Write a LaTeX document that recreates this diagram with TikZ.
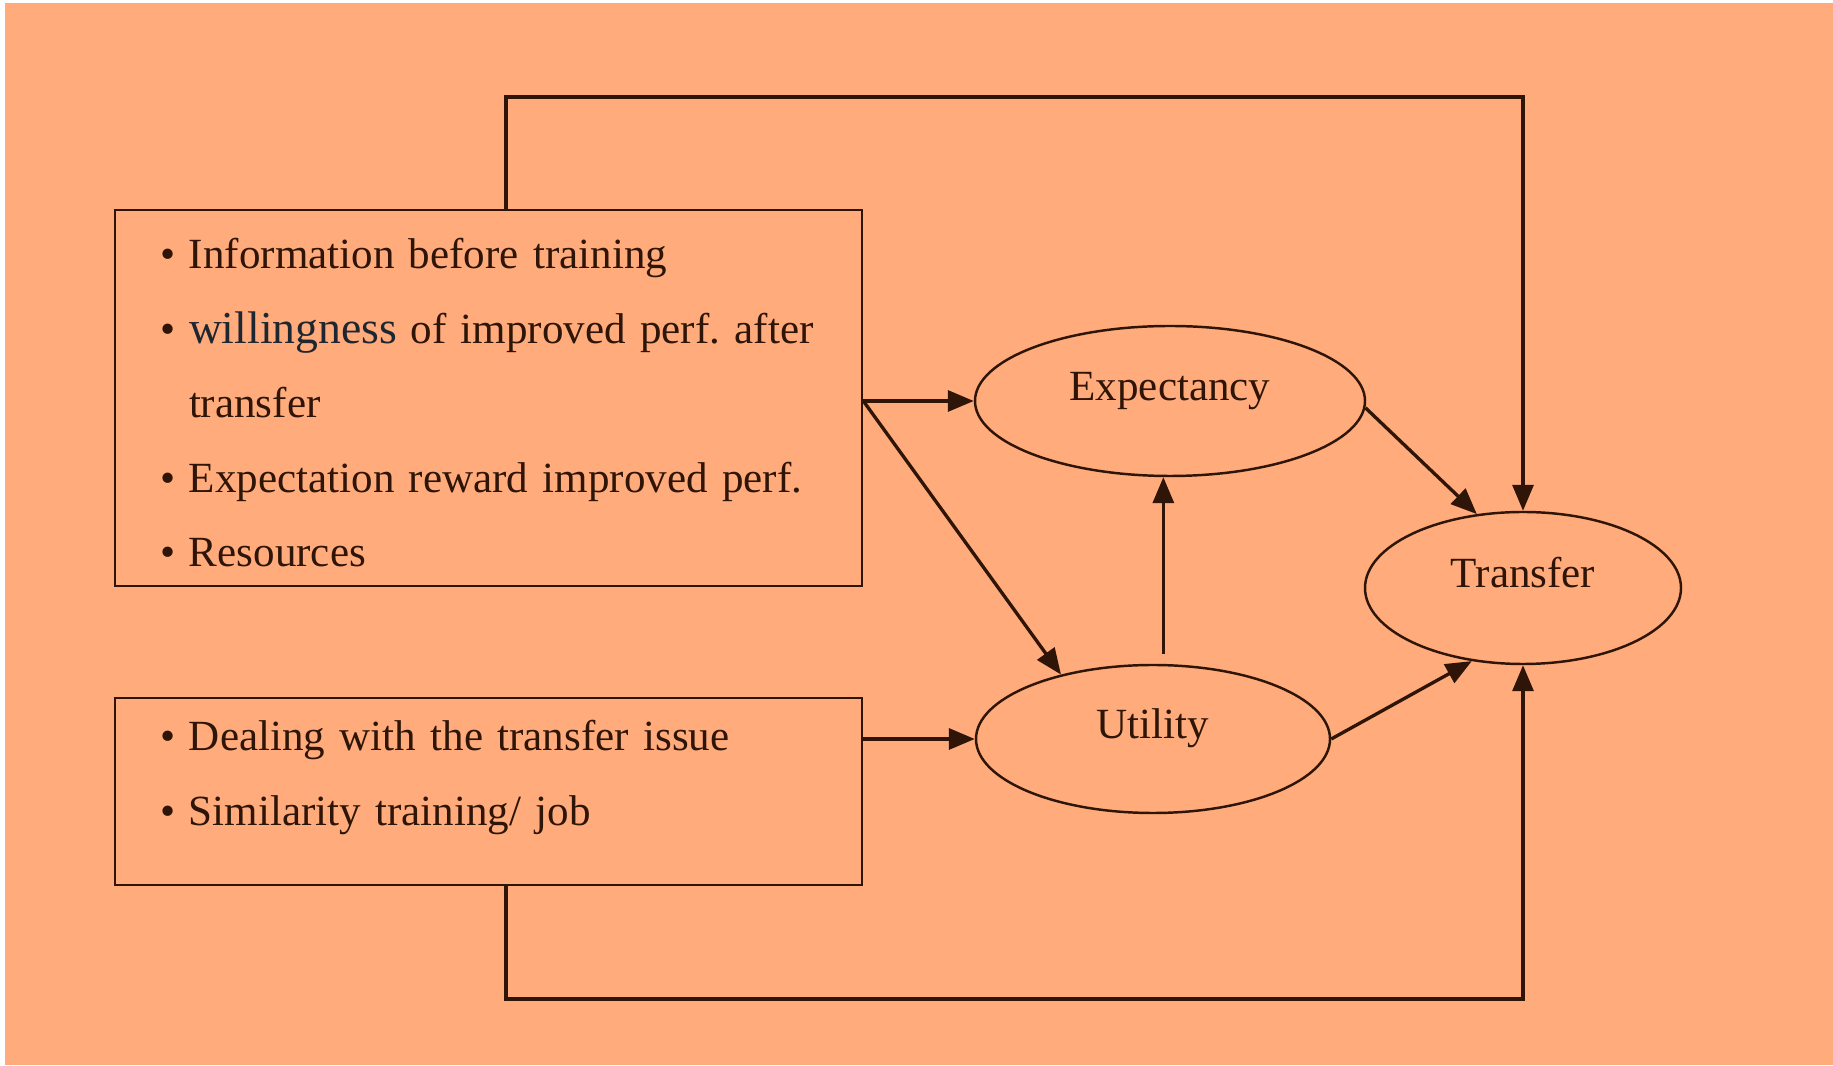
\documentclass[tikz,border=0pt]{standalone}
\usepackage{fontspec}
\setmainfont{Liberation Serif}
\usepackage{xcolor}
\usetikzlibrary{arrows.meta, positioning, shapes.geometric}
\definecolor{bgorange}{HTML}{FFAB7B}
\definecolor{inkbrown}{HTML}{2E1508}
\definecolor{willgray}{HTML}{1E2630}
\newcommand{\blt}{\makebox[0.58cm][l]{\textbullet}}

\begin{document}
\begin{tikzpicture}[
    factors/.style={draw=inkbrown, line width=1.5pt, align=left, text=inkbrown,
                    font=\fontsize{24.5}{42.4}\selectfont, inner xsep=0.9cm,
                    text width=13.14cm, minimum width=14.94cm},
    oval/.style={ellipse, draw=inkbrown, line width=1.4pt, inner sep=0pt,
                 text=inkbrown, font=\fontsize{24.5}{30}\selectfont,
                 text height=0.5cm, text depth=0.52cm},
    link/.style={draw=inkbrown, line width=1.9pt,
                 -{Triangle[length=0.52cm, width=0.42cm]}},
]
% page and background
\fill[white] (0,0) rectangle (36.66,21.3);
\fill[bgorange] (0.1,0) rectangle (36.66,21.24);
\useasboundingbox (0,0) rectangle (36.66,21.3);

% factor boxes
\node[factors, minimum height=7.52cm, text height=0.8cm] (pre) at (9.77,13.34)
   {\blt Information before training\\
    \blt\mbox{{\fontsize{26}{41.8}\selectfont\color{willgray}willingness}\hspace{0.27cm}of improved perf.\ after}\\
    \hspace*{0.58cm}transfer\\
    \blt Expectation reward improved perf.\\
    \blt Resources};
\node[factors, minimum height=3.74cm, text depth=2.23cm] (design) at (9.77,5.47)
   {\blt Dealing with the transfer issue\\
    \blt Similarity training/ job};

% ovals
\node[oval, minimum width=7.8cm, minimum height=3.0cm] (exp) at (23.4,13.28) {Expectancy};
\node[oval, minimum width=7.08cm, minimum height=2.96cm] (util) at (23.06,6.52) {Utility};
\node[oval, minimum width=6.32cm, minimum height=3.04cm] (trans) at (30.46,9.54) {Transfer};

\coordinate (topturn) at (10.12,19.36);
\coordinate (botturn) at (10.12,1.32);
\coordinate (fork) at (pre.east |- exp.west);

% connectors
\draw[link] (pre.north -| topturn) -- (topturn) -| (trans.north);
\draw[link] (design.south -| botturn) -- (botturn) -| (trans.south);
\draw[link] (fork) -- (exp.west);
\draw[link] (fork) -- (util.145);
\draw[link] ([yshift=2mm]util.north -| exp.265) -- (exp.265);
\draw[link] (exp.-2) -- (trans.122);
\draw[link] (util.east) -- (trans.235);
\draw[link] (design.east |- util.west) -- (util.west);
\end{tikzpicture}
\end{document}
